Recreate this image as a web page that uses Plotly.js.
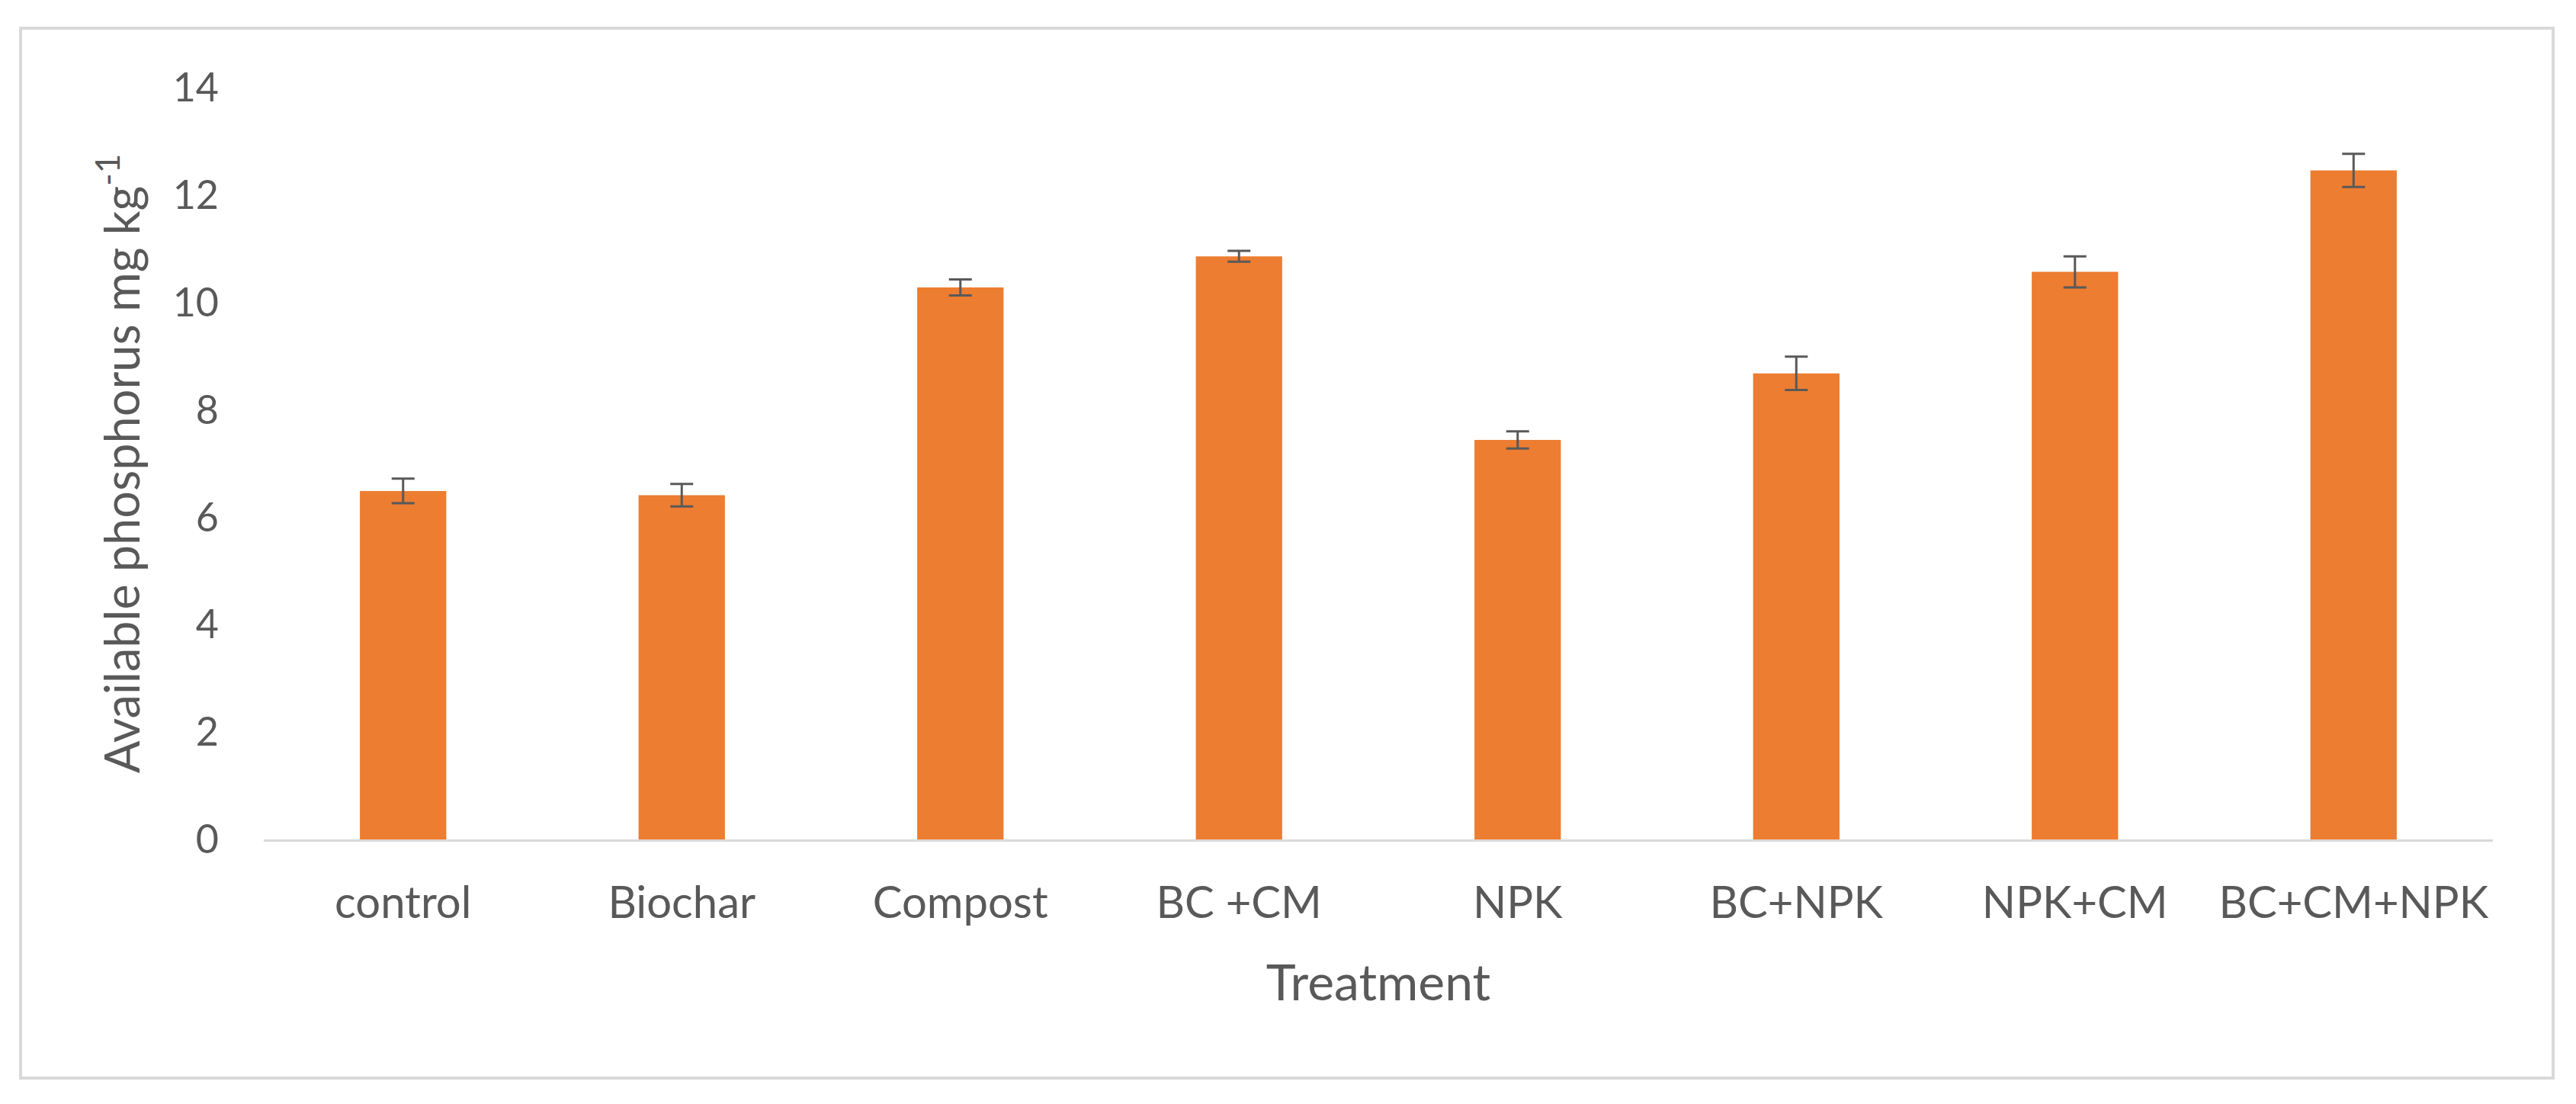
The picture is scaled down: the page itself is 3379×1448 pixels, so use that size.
<!DOCTYPE html>
<html>
<head>
<meta charset="utf-8">
<script src="https://cdn.plot.ly/plotly-3.0.1.min.js"></script>
<style>
  html, body { margin: 0; padding: 0; background: #ffffff; }
  #chart { width: 3379px; height: 1448px; }
</style>
</head>
<body>
<div id="chart"></div>
<script>
// ---- Data ----
const treatments = ["control", "Biochar", "Compost", "BC +CM", "NPK", "BC+NPK", "NPK+CM", "BC+CM+NPK"];
const availablePhosphorus = [6.49, 6.41, 10.28, 10.86, 7.44, 8.68, 10.57, 12.46];
const errorValues = [0.23, 0.21, 0.15, 0.10, 0.16, 0.31, 0.29, 0.31];
const yTickValues = [0, 2, 4, 6, 8, 10, 12, 14];

// ---- Layout constants (pixels) ----
const W = 3379, H = 1448;
const plotL = 346, plotR = 3270, plotT = 115, plotB = 1101;
const m = { l: plotL, r: W - plotR, t: plotT, b: H - plotB, pad: 0 };
const pw = plotR - plotL, ph = plotB - plotT;
const px2x = p => (p - plotL) / pw;
const px2y = p => (plotB - p) / ph;

const textGray = "#595959";
const font = "Lato, 'Open Sans', sans-serif";

const trace = {
  type: "bar",
  x: treatments,
  y: availablePhosphorus,
  marker: { color: "#ED7D31", line: { width: 0 } },
  error_y: {
    type: "data",
    array: errorValues,
    visible: true,
    color: "#595959",
    thickness: 3,
    width: 15
  },
  hoverinfo: "x+y"
};

const layout = {
  width: W,
  height: H,
  margin: m,
  paper_bgcolor: "#ffffff",
  plot_bgcolor: "#ffffff",
  showlegend: false,
  bargap: 0.69,
  font: { family: font, color: textGray },
  xaxis: {
    type: "category",
    showgrid: false,
    zeroline: false,
    showline: true,
    linecolor: "#D9D9D9",
    linewidth: 3,
    ticks: "",
    ticklabelstandoff: 30,
    tickfont: { family: font, size: 58, color: textGray },
    title: { text: "Treatment", font: { family: font, size: 66, color: textGray }, standoff: 52 },
    automargin: false,
    fixedrange: true
  },
  yaxis: {
    range: [0, 14],
    tickvals: yTickValues,
    ticktext: yTickValues.map(String),
    showgrid: false,
    zeroline: false,
    showline: false,
    ticks: "",
    ticklabelstandoff: 58,
    tickfont: { family: font, size: 52, color: textGray },
    title: { text: "Available phosphorus mg kg<sup>-1</sup>", font: { family: font, size: 63, color: textGray }, standoff: 22 },
    automargin: false,
    fixedrange: true
  },
  shapes: [
    {
      type: "rect",
      xref: "paper", yref: "paper",
      x0: px2x(27), x1: px2x(3349),
      y0: px2y(1414), y1: px2y(37),
      line: { color: "#D9D9D9", width: 4 },
      fillcolor: "rgba(0,0,0,0)",
      layer: "below"
    }
  ]
};

Plotly.newPlot("chart", [trace], layout, { displayModeBar: false, staticPlot: true });
</script>
</body>
</html>
